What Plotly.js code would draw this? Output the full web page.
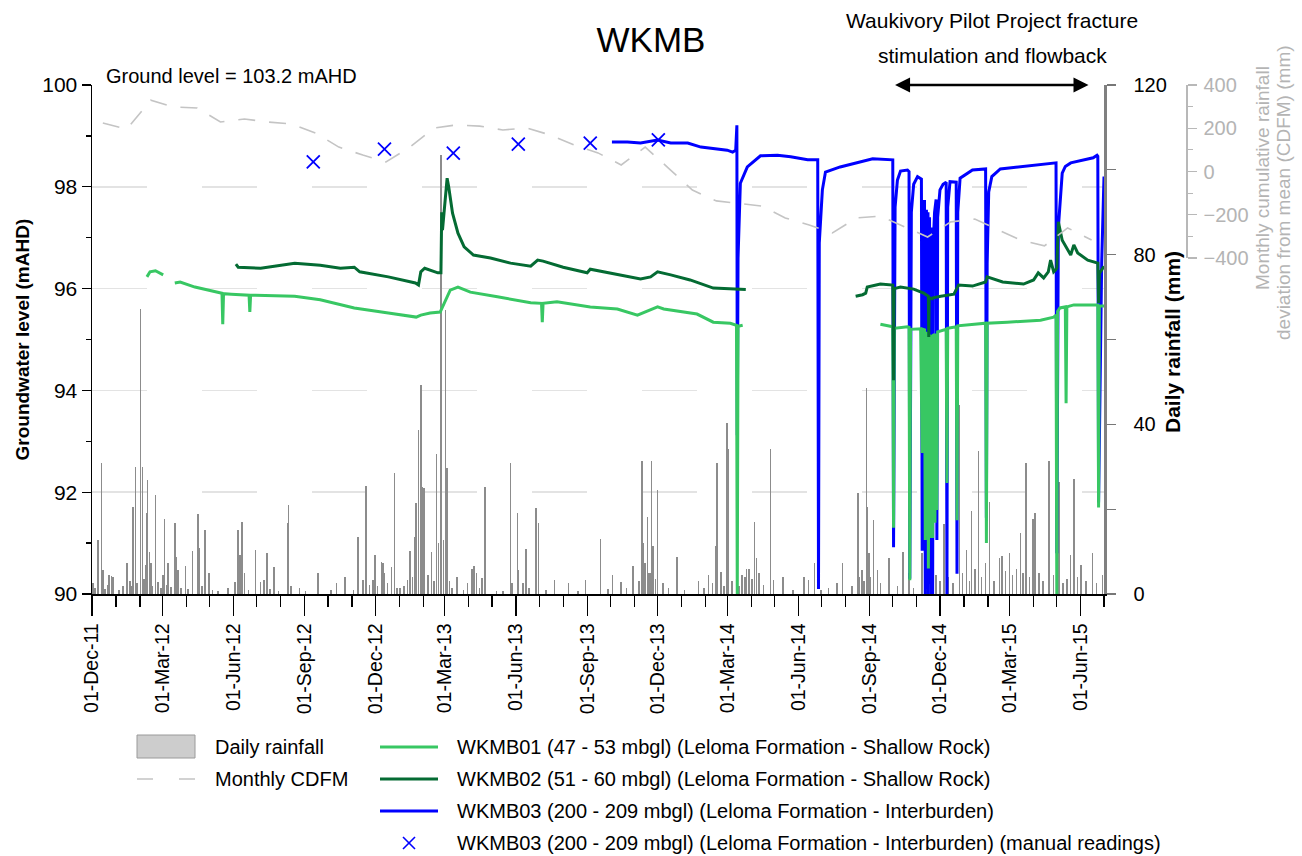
<!DOCTYPE html>
<html>
<head>
<meta charset="utf-8">
<script src="https://cdn.plot.ly/plotly-3.0.1.min.js"></script>
<style>
  html, body { margin: 0; padding: 0; background: #fff; }
  #chart { width: 1302px; height: 856px; }
</style>
</head>
<body>
<div id="chart"></div>
<script>
// ---- Daily rainfall (mm) ----
const rainDates = [
  '2011-12-02','2011-12-05','2011-12-09','2011-12-13','2011-12-15','2011-12-18','2011-12-21','2011-12-23','2011-12-26','2011-12-28',
  '2012-01-05','2012-01-10','2012-01-15','2012-01-19','2012-01-21','2012-01-23','2012-01-26','2012-01-28',
  '2012-02-02','2012-02-04','2012-02-06','2012-02-09','2012-02-10','2012-02-11','2012-02-13','2012-02-15','2012-02-17','2012-02-21','2012-02-24','2012-02-28',
  '2012-03-02','2012-03-04','2012-03-06','2012-03-08','2012-03-12','2012-03-17','2012-03-19','2012-03-21','2012-03-25','2012-03-31',
  '2012-04-03','2012-04-09','2012-04-16','2012-04-18','2012-04-21','2012-04-25','2012-04-30',
  '2012-05-05','2012-05-12','2012-05-25',
  '2012-06-03','2012-06-07','2012-06-09','2012-06-12','2012-06-15','2012-06-20','2012-06-29',
  '2012-07-06','2012-07-10','2012-07-14','2012-07-18','2012-07-23','2012-07-29',
  '2012-08-10','2012-08-11','2012-08-14','2012-08-25',
  '2012-09-02','2012-09-18','2012-10-05','2012-10-12','2012-10-23',
  '2012-11-03','2012-11-09','2012-11-15','2012-11-19','2012-11-24','2012-11-28',
  '2012-12-01','2012-12-04','2012-12-09','2012-12-11','2012-12-13','2012-12-17','2012-12-22','2012-12-26','2012-12-29',
  '2013-01-02','2013-01-07','2013-01-12','2013-01-15','2013-01-18','2013-01-21','2013-01-23','2013-01-26','2013-01-29','2013-01-31',
  '2013-02-02','2013-02-07','2013-02-12','2013-02-15','2013-02-18','2013-02-21','2013-02-24','2013-02-25','2013-02-27',
  '2013-03-02','2013-03-04','2013-03-07','2013-03-10','2013-03-17','2013-03-25','2013-03-30',
  '2013-04-05','2013-04-08','2013-04-11','2013-04-15','2013-04-18','2013-04-22',
  '2013-05-07','2013-05-15','2013-05-25','2013-05-27',
  '2013-06-03','2013-06-04','2013-06-10','2013-06-14','2013-06-18','2013-06-27','2013-06-30',
  '2013-07-10','2013-07-21','2013-08-08','2013-08-20','2013-08-30','2013-09-18','2013-09-28',
  '2013-10-04','2013-10-15','2013-10-22','2013-10-30',
  '2013-11-07','2013-11-11','2013-11-13','2013-11-15','2013-11-18','2013-11-19','2013-11-21','2013-11-23','2013-11-25','2013-11-28',
  '2013-12-01','2013-12-08','2013-12-15','2013-12-26',
  '2014-01-05','2014-01-23','2014-01-30',
  '2014-02-05','2014-02-10','2014-02-14','2014-02-16','2014-02-21','2014-02-25',
  '2014-03-01','2014-03-03','2014-03-07','2014-03-16','2014-03-20','2014-03-24','2014-03-26','2014-03-29',
  '2014-04-02','2014-04-05','2014-04-08','2014-04-11','2014-04-17','2014-04-26','2014-04-30',
  '2014-05-12','2014-05-25','2014-06-08','2014-06-14','2014-06-22','2014-06-30',
  '2014-07-10','2014-07-21','2014-07-28',
  '2014-08-09','2014-08-17','2014-08-19','2014-08-22','2014-08-25','2014-08-28','2014-08-29','2014-08-31',
  '2014-09-02','2014-09-06','2014-09-11','2014-09-15','2014-09-26',
  '2014-10-07','2014-10-14','2014-10-22','2014-10-28',
  '2014-11-08','2014-11-14','2014-11-20','2014-11-26',
  '2014-12-01','2014-12-06','2014-12-12','2014-12-18','2014-12-26','2014-12-30',
  '2015-01-04','2015-01-08','2015-01-11','2015-01-15','2015-01-20','2015-01-24','2015-01-29',
  '2015-02-03','2015-02-09','2015-02-16','2015-02-19','2015-02-24',
  '2015-03-01','2015-03-05','2015-03-10','2015-03-15','2015-03-18','2015-03-22','2015-03-27','2015-03-31',
  '2015-04-03','2015-04-08','2015-04-13','2015-04-21','2015-04-27',
  '2015-05-04','2015-05-09','2015-05-14','2015-05-19','2015-05-23','2015-05-28',
  '2015-06-01','2015-06-08','2015-06-16','2015-06-21','2015-06-29'
];
const rainMm = [
  2.5,1.5,12.7,30.8,5.7,1.2,2.1,4.5,4.3,4.0,
  1.0,2.0,7.2,3.0,1.8,20.6,30.0,2.5,
  67.3,30.0,3.5,6.8,19.0,26.9,10.0,7.2,2.0,23.3,2.9,1.5,
  4.5,17.8,2.2,7.2,1.6,16.8,8.8,5.7,1.5,6.6,
  1.2,10.2,18.9,10.8,2.0,15.2,4.9,
  1.0,0.8,1.3,
  2.9,15.1,9.2,17.0,4.9,1.0,10.4,
  2.9,3.3,9.6,1.2,6.3,0.8,
  16.7,21.0,2.0,1.3,
  0.8,5.0,1.0,2.5,3.9,
  1.0,13.5,3.3,25.5,2.2,3.3,
  9.2,2.0,7.6,7.2,4.9,2.5,6.4,28.6,1.4,
  1.3,2.0,3.3,10.2,4.0,13.5,21.4,38.7,49.3,25.3,
  25.0,4.5,10.0,3.0,33.0,12.0,103.5,25.3,12.7,
  67.0,29.6,3.0,1.5,4.1,1.0,2.5,
  6.0,6.6,4.9,1.5,3.7,25.3,
  0.6,0.8,30.8,2.5,
  19.0,5.7,2.5,10.5,1.3,20.2,16.7,
  1.0,3.3,2.7,0.8,3.3,12.9,1.2,
  4.5,2.9,1.5,6.6,
  3.0,31.4,12.0,7.2,18.2,4.9,5.0,31.4,11.2,3.5,
  24.5,2.5,1.5,8.8,
  1.0,3.1,1.5,
  4.5,2.5,11.2,30.8,5.3,2.0,
  40.2,34.3,3.0,2.0,4.5,4.1,6.0,6.0,
  3.5,17.0,8.4,4.9,2.2,34.3,3.3,
  3.9,1.0,4.1,3.3,7.2,1.0,
  1.5,2.5,7.4,
  2.0,23.7,4.0,5.7,3.0,48.5,20.6,9.6,
  4.0,17.4,5.7,2.5,8.4,
  2.0,10.0,4.9,1.5,
  9.6,16.3,3.5,4.5,
  3.0,16.5,4.0,2.5,44.6,5.0,
  10.4,3.0,19.6,6.0,33.6,4.0,7.2,
  21.8,3.0,8.4,9.0,5.5,
  9.6,4.5,6.0,14.3,5.0,30.8,4.0,17.8,
  19.0,5.0,3.0,31.4,4.5,
  26.5,2.5,3.5,9.2,27.0,4.0,
  6.8,3.0,9.6,2.5,4.5
];

// ---- Monthly cumulative rainfall deviation from mean (mm) ----
const cdfmDates = [
  '2011-12-15','2012-01-15','2012-02-15','2012-03-15','2012-04-15','2012-05-15','2012-06-15','2012-07-15','2012-08-15','2012-09-15','2012-10-15','2012-11-15','2012-12-15',
  '2013-01-15','2013-02-15','2013-03-15','2013-04-15','2013-05-15','2013-06-15','2013-07-15','2013-08-15','2013-09-15','2013-10-15','2013-11-15','2013-12-15',
  '2014-01-15','2014-02-15','2014-03-15','2014-04-15','2014-05-15','2014-06-15','2014-07-15','2014-08-15','2014-09-15','2014-10-15','2014-11-15','2014-12-15',
  '2015-01-15','2015-02-15','2015-03-15','2015-04-15','2015-05-15','2015-06-15'
];
const cdfmMm = [
  224,196,330,298,294,229,243,229,220,178,113,76,44,
  113,201,215,210,192,201,169,123,86,30,113,16,
  -86,-136,-146,-160,-215,-247,-284,-215,-206,-252,-303,-233,
  -220,-271,-317,-344,-261,-317
];

// ---- WKMB01 logger (mAHD) ----
const wkmb01Dates = [
  '2012-02-10','2012-02-14','2012-02-21','2012-02-25','2012-03-02','2012-03-09',
  '2012-03-17','2012-03-24','2012-04-12','2012-05-17','2012-05-18','2012-05-19','2012-05-29',
  '2012-06-21','2012-06-22','2012-06-23','2012-06-29','2012-08-19','2012-09-21','2012-11-04','2012-12-18',
  '2013-01-23','2013-01-29','2013-02-10','2013-02-23','2013-03-02','2013-03-08','2013-03-18','2013-04-03','2013-05-08',
  '2013-06-20','2013-07-04','2013-07-05','2013-07-06','2013-07-24','2013-09-05','2013-10-10','2013-11-05','2013-12-01','2013-12-09',
  '2014-01-21','2014-02-11','2014-03-05','2014-03-13','2014-03-14','2014-03-15','2014-03-21','2014-06-01',
  '2014-09-15','2014-10-01','2014-10-02','2014-10-03','2014-10-20','2014-10-22','2014-10-23','2014-10-24',
  '2014-11-06','2014-11-08','2014-11-09','2014-11-11','2014-11-12','2014-11-12 18:00','2014-11-13 12:00','2014-11-14',
  '2014-11-14 18:00','2014-11-15 12:00','2014-11-16','2014-11-16 18:00','2014-11-17 12:00','2014-11-18','2014-11-18 18:00',
  '2014-11-19 12:00','2014-11-20','2014-11-20 18:00','2014-11-21 06:00','2014-11-21 12:00','2014-11-22','2014-11-24',
  '2014-11-24 12:00','2014-11-25','2014-11-27','2014-11-28',
  '2014-12-09','2014-12-10','2014-12-11','2014-12-22','2014-12-23','2014-12-24',
  '2015-01-12','2015-01-29','2015-01-30','2015-01-31','2015-02-26','2015-04-10','2015-04-27','2015-04-30','2015-05-01','2015-05-02',
  '2015-05-05','2015-05-12','2015-05-13','2015-05-14','2015-05-23','2015-06-23','2015-06-24','2015-06-25','2015-07-01'
];
const wkmb01Level = [
  96.23,96.33,96.35,96.32,96.27,null,
  96.11,96.13,96.03,95.91,95.30,95.90,95.89,
  95.87,95.54,95.87,95.87,95.85,95.78,95.62,95.52,
  95.44,95.48,95.52,95.54,95.78,95.97,96.03,95.93,95.84,
  95.72,95.71,95.34,95.71,95.74,95.64,95.60,95.48,95.64,95.60,
  95.50,95.34,95.32,95.28,90.00,95.26,95.28,null,
  95.30,95.25,91.30,95.22,95.25,95.24,90.27,95.20,
  95.21,92.77,95.20,95.19,91.06,95.15,95.15,91.20,
  95.12,95.12,90.50,95.10,95.10,91.10,95.08,
  95.06,91.30,95.05,95.05,91.10,95.08,95.10,
  91.40,95.12,91.65,95.15,
  95.20,92.18,95.22,95.25,91.45,95.27,
  95.29,95.32,91.00,95.32,95.34,95.38,95.44,95.48,90.00,95.55,
  95.62,95.64,93.75,95.64,95.68,95.68,91.70,95.66,95.66
];

// ---- WKMB02 logger (mAHD) ----
const wkmb02Dates = [
  '2012-06-04','2012-06-07','2012-07-06','2012-07-24','2012-08-19','2012-09-21','2012-10-17','2012-11-04','2012-11-11','2012-11-18',
  '2012-12-18','2013-01-22','2013-01-26','2013-01-29','2013-02-03','2013-02-20','2013-02-24','2013-02-25','2013-02-26',
  '2013-03-03','2013-03-04','2013-03-06','2013-03-11','2013-03-18','2013-03-26','2013-04-07','2013-04-29','2013-05-25',
  '2013-06-20','2013-06-29','2013-07-06','2013-08-01','2013-09-01','2013-09-05','2013-09-22','2013-11-09','2013-11-22',
  '2013-12-01','2013-12-18','2014-01-12','2014-02-11','2014-03-05','2014-03-22','2014-03-25','2014-06-01',
  '2014-08-14','2014-08-23','2014-08-27','2014-08-29','2014-09-15','2014-10-01','2014-10-02','2014-10-03','2014-10-11',
  '2014-10-28','2014-11-10','2014-11-16','2014-11-16 12:00','2014-11-17','2014-11-21','2014-11-22','2014-12-02','2014-12-19','2014-12-25',
  '2015-01-12','2015-01-29','2015-01-31','2015-02-20','2015-03-19','2015-04-01','2015-04-07','2015-04-14','2015-04-20',
  '2015-04-23','2015-04-27','2015-04-29','2015-05-01','2015-05-03','2015-05-08','2015-05-19','2015-05-23','2015-05-28',
  '2015-06-10','2015-06-23','2015-06-24','2015-06-25','2015-07-01'
];
const wkmb02Level = [
  96.48,96.42,96.40,96.44,96.50,96.46,96.40,96.42,96.33,96.31,
  96.23,96.11,96.07,96.33,96.40,96.31,96.31,97.50,97.15,
  98.00,98.17,98.00,97.48,97.09,96.82,96.66,96.60,96.50,
  96.44,96.56,96.54,96.42,96.31,96.38,96.33,96.19,96.23,
  96.33,96.27,96.17,96.01,95.99,95.97,95.98,null,
  95.85,95.88,95.91,96.03,96.09,96.07,94.20,96.00,96.03,
  95.99,95.91,95.85,95.05,95.82,95.80,95.82,95.85,95.89,96.07,
  96.05,96.13,96.23,96.13,96.09,96.17,96.31,96.21,96.33,
  96.56,96.33,96.36,96.40,97.31,96.95,96.66,96.86,96.70,
  96.56,96.50,95.72,96.30,96.44
];

// ---- WKMB03 logger (mAHD) ----
const wkmb03Dates = [
  '2013-10-03','2013-10-23','2013-11-09','2013-12-01','2013-12-18','2014-01-09','2014-01-26','2014-02-17','2014-03-01','2014-03-08','2014-03-12',
  '2014-03-13 12:00','2014-03-14','2014-03-15','2014-03-18','2014-03-27','2014-04-13','2014-05-05','2014-05-22','2014-06-13','2014-06-26',
  '2014-06-27','2014-06-28','2014-07-02','2014-07-06','2014-07-25','2014-08-16','2014-09-05','2014-10-01',
  '2014-10-02','2014-10-04','2014-10-07','2014-10-11','2014-10-20','2014-10-22','2014-10-23','2014-10-25','2014-10-28','2014-11-02','2014-11-07',
  '2014-11-08','2014-11-09 12:00','2014-11-11','2014-11-12','2014-11-12 18:00','2014-11-13 12:00','2014-11-14','2014-11-14 18:00',
  '2014-11-15 12:00','2014-11-16','2014-11-16 18:00','2014-11-17 12:00','2014-11-18','2014-11-18 18:00','2014-11-19 12:00',
  '2014-11-20','2014-11-20 18:00','2014-11-21 06:00','2014-11-21 12:00','2014-11-22','2014-11-22 12:00','2014-11-24','2014-11-25','2014-11-26',
  '2014-11-27','2014-11-28','2014-12-01','2014-12-05','2014-12-09',
  '2014-12-10','2014-12-11','2014-12-14','2014-12-22','2014-12-23','2014-12-24','2014-12-27','2015-01-12','2015-01-29',
  '2015-01-30','2015-01-31','2015-02-02','2015-02-06','2015-02-17','2015-03-01','2015-04-02','2015-04-24','2015-04-30',
  '2015-05-01','2015-05-03','2015-05-08','2015-05-12','2015-05-19','2015-06-01','2015-06-17','2015-06-22','2015-06-23',
  '2015-06-24','2015-06-28','2015-07-01'
];
const wkmb03Level = [
  98.88,98.88,98.86,98.92,98.86,98.86,98.78,98.74,98.72,98.68,98.72,
  99.21,93.12,96.60,98.07,98.39,98.61,98.62,98.59,98.53,98.53,
  90.10,96.90,97.94,98.29,98.39,98.47,98.55,98.53,
  90.92,97.60,98.13,98.31,98.33,98.30,90.30,97.50,98.05,98.20,98.15,
  90.85,97.50,97.74,90.00,97.40,97.55,90.10,97.40,
  97.50,90.00,97.30,97.40,90.20,97.10,97.20,
  90.00,96.90,97.00,90.00,96.50,96.95,97.50,97.68,97.75,
  91.06,97.40,97.94,98.05,98.09,
  90.00,97.60,98.10,98.09,90.40,97.50,98.17,98.33,98.35,
  91.50,96.50,97.90,98.20,98.35,98.37,98.43,98.47,98.47,
  90.80,97.20,98.27,98.40,98.47,98.52,98.57,98.62,98.60,
  91.80,96.50,98.20
];

// ---- WKMB03 manual dips (mAHD) ----
const manualDates = ['2012-09-12','2012-12-13','2013-03-12','2013-06-04','2013-09-05','2013-12-02'];
const manualLevel = [98.49, 98.74, 98.66, 98.84, 98.86, 98.92];

// ---- Stimulation & flowback window ----
const stimStart = '2014-10-02';
const stimEnd = '2015-06-11';

const FONT = 'Liberation Sans, Arial, Helvetica, sans-serif';
const C01 = '#38c763';
const C02 = '#046b33';
const C03 = '#0000ff';

const traces = [
  {
    type: 'bar', x: rainDates, y: rainMm, xaxis: 'x', yaxis: 'y',
    width: 1.9 * 86400000,
    marker: { color: '#8c8c8c', line: { width: 0 } },
    hoverinfo: 'x+y', name: 'Daily rainfall'
  },
  {
    type: 'scatter', mode: 'lines', x: wkmb03Dates, y: wkmb03Level, xaxis: 'x', yaxis: 'y2',
    line: { color: C03, width: 3 }, name: 'WKMB03'
  },
  {
    type: 'scatter', mode: 'lines', x: wkmb01Dates, y: wkmb01Level, xaxis: 'x', yaxis: 'y2',
    line: { color: C01, width: 3 }, name: 'WKMB01'
  },
  {
    type: 'scatter', mode: 'lines', x: wkmb02Dates, y: wkmb02Level, xaxis: 'x', yaxis: 'y2',
    line: { color: C02, width: 3 }, name: 'WKMB02'
  },
  {
    type: 'scatter', mode: 'markers', x: manualDates, y: manualLevel, xaxis: 'x', yaxis: 'y2',
    marker: { symbol: 'x-thin-open', size: 13, color: C03, line: { color: C03, width: 1.8 } },
    name: 'WKMB03 manual'
  },
  {
    type: 'scatter', mode: 'lines', x: cdfmDates, y: cdfmMm, xaxis: 'x', yaxis: 'y3',
    line: { color: '#c4c4c4', width: 1.6, dash: '17px,14px' }, name: 'Monthly CDFM'
  }
];

// plot area: x 92..1104 px, y 85..594 px
const PW = 1094, PH = 509, L = 92, T = 85;
const px = v => (v - L) / PW;
const py = v => (T + PH - v) / PH;

const legendRows = [747, 779, 811, 843];
const shapes = [
  { type: 'rect', xref: 'paper', yref: 'paper', x0: px(137), x1: px(195), y0: py(758), y1: py(735),
    fillcolor: '#cdcdcd', line: { color: '#9a9a9a', width: 1 } },
  { type: 'line', xref: 'paper', yref: 'paper', x0: px(137), x1: px(195), y0: py(legendRows[1]), y1: py(legendRows[1]),
    line: { color: '#c4c4c4', width: 1.6, dash: '16px,26px' } },
  { type: 'line', xref: 'paper', yref: 'paper', x0: px(380), x1: px(438), y0: py(legendRows[0]), y1: py(legendRows[0]),
    line: { color: C01, width: 3 } },
  { type: 'line', xref: 'paper', yref: 'paper', x0: px(380), x1: px(438), y0: py(legendRows[1]), y1: py(legendRows[1]),
    line: { color: C02, width: 3 } },
  { type: 'line', xref: 'paper', yref: 'paper', x0: px(380), x1: px(438), y0: py(legendRows[2]), y1: py(legendRows[2]),
    line: { color: C03, width: 3 } },
  { type: 'line', xref: 'paper', yref: 'paper', x0: px(403), x1: px(415), y0: py(legendRows[3] - 6), y1: py(legendRows[3] + 6),
    line: { color: C03, width: 1.6 } },
  { type: 'line', xref: 'paper', yref: 'paper', x0: px(403), x1: px(415), y0: py(legendRows[3] + 6), y1: py(legendRows[3] - 6),
    line: { color: C03, width: 1.6 } }
];

const txt = (text, x, y, opts) => Object.assign({
  text, xref: 'paper', yref: 'paper', x, y, showarrow: false,
  xanchor: 'left', yanchor: 'middle', font: { family: FONT, size: 20, color: '#000' }
}, opts || {});

const annotations = [
  txt('Ground level = 103.2 mAHD', px(104), py(76)),
  txt('Waukivory Pilot Project fracture', px(992), py(20), { xanchor: 'center', font: { family: FONT, size: 21, color: '#000' } }),
  txt('stimulation and flowback', px(992), py(55), { xanchor: 'center', font: { family: FONT, size: 21, color: '#000' } }),
  {
    xref: 'x', yref: 'y2', x: stimEnd, y: 100, axref: 'x', ayref: 'y2', ax: stimStart, ay: 100,
    text: '', showarrow: true, arrowside: 'end+start', arrowhead: 2, startarrowhead: 2,
    arrowsize: 1.2, startarrowsize: 1.2, arrowwidth: 2.5, arrowcolor: '#000', standoff: 0, startstandoff: 0
  },
  txt('<b>Groundwater level (mAHD)</b>', px(22), 0.5, { xanchor: 'center', textangle: -90, font: { family: FONT, size: 19, color: '#000' } }),
  txt('<b>Daily rainfall (mm)</b>', px(1172), py(342), { xanchor: 'center', textangle: -90, font: { family: FONT, size: 21, color: '#000' } }),
  txt('Monthly cumulative rainfall', px(1262), py(178), { xanchor: 'center', textangle: -90, font: { family: FONT, size: 19, color: '#b4b4b4' } }),
  txt('deviation from mean (CDFM) (mm)', px(1283), py(193), { xanchor: 'center', textangle: -90, font: { family: FONT, size: 19, color: '#b4b4b4' } }),
  txt('Daily rainfall', px(213), py(legendRows[0])),
  txt('Monthly CDFM', px(213), py(legendRows[1])),
  txt('WKMB01 (47 - 53 mbgl) (Leloma Formation - Shallow Rock)', px(455), py(legendRows[0])),
  txt('WKMB02 (51 - 60 mbgl) (Leloma Formation - Shallow Rock)', px(455), py(legendRows[1])),
  txt('WKMB03 (200 - 209 mbgl) (Leloma Formation - Interburden)', px(455), py(legendRows[2])),
  txt('WKMB03 (200 - 209 mbgl) (Leloma Formation - Interburden) (manual readings)', px(455), py(legendRows[3]))
];

const layout = {
  width: 1302, height: 856,
  margin: { l: L, r: 1302 - L - PW, t: T, b: 856 - T - PH, pad: 0 },
  paper_bgcolor: '#fff', plot_bgcolor: 'rgba(0,0,0,0)',
  font: { family: FONT, size: 20, color: '#000' },
  showlegend: false,
  bargap: 0,
  title: {
    text: 'WKMB', font: { family: FONT, size: 35, color: '#000' },
    x: 0.5, xref: 'container', xanchor: 'center', y: 1 - 40 / 856, yref: 'container', yanchor: 'middle'
  },
  xaxis: {
    type: 'date', domain: [0, (1104 - L) / PW],
    range: ['2011-12-01', '2015-07-01'],
    tick0: '2011-12-01', dtick: 'M3', tickformat: '%d-%b-%y', tickangle: -90,
    ticks: 'outside', ticklen: 20, tickwidth: 1.2, tickcolor: '#000',
    minor: { dtick: 'M1', ticks: 'outside', ticklen: 11, tickwidth: 1.2, tickcolor: '#000', showgrid: false },
    showline: true, linecolor: '#000', linewidth: 1.5,
    showgrid: false, zeroline: false, fixedrange: true,
    tickfont: { family: FONT, size: 19.5, color: '#000' }
  },
  yaxis: {
    side: 'right', anchor: 'x', range: [0, 120], dtick: 40, tick0: 0,
    ticks: 'outside', ticklen: 9, tickwidth: 1.2, tickcolor: '#777',
    minor: { dtick: 20, ticks: 'outside', ticklen: 9, tickwidth: 1.2, tickcolor: '#777', showgrid: false },
    showline: true, linecolor: '#808080', linewidth: 2.5,
    showgrid: false, zeroline: false, ticklabelstandoff: 14,
    tickfont: { family: FONT, size: 20, color: '#000' }
  },
  yaxis2: {
    overlaying: 'y', side: 'left', anchor: 'x', range: [90, 100], dtick: 2, tick0: 90,
    ticks: 'outside', ticklen: 9, tickwidth: 1.2, tickcolor: '#000',
    minor: { dtick: 1, ticks: 'outside', ticklen: 5, tickwidth: 1.2, tickcolor: '#000', showgrid: false },
    showline: true, linecolor: '#000', linewidth: 1.5,
    showgrid: true, gridcolor: '#e3e3e3', gridwidth: 1.5, griddash: '55px,55px',
    zeroline: false,
    tickfont: { family: FONT, size: 21, color: '#000' }
  },
  yaxis3: {
    anchor: 'free', position: 1, side: 'right', domain: [py(258), 1],
    range: [-400, 400], dtick: 200, tick0: 0,
    ticks: 'outside', ticklen: 9, tickwidth: 1.2, tickcolor: '#b8b8b8',
    minor: { dtick: 100, ticks: 'outside', ticklen: 5, tickwidth: 1.2, tickcolor: '#b8b8b8', showgrid: false },
    showline: true, linecolor: '#b8b8b8', linewidth: 1.5,
    showgrid: false, zeroline: false, ticklabelstandoff: 3,
    tickfont: { family: FONT, size: 20, color: '#b4b4b4' }
  },
  shapes, annotations
};

Plotly.newPlot('chart', traces, layout, { staticPlot: true, displayModeBar: false });
</script>
</body>
</html>
